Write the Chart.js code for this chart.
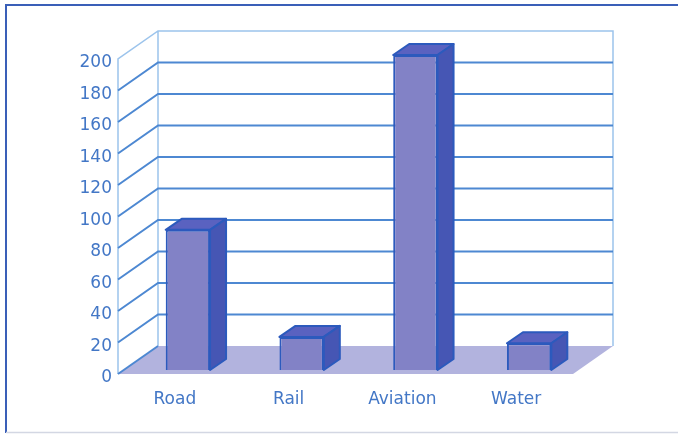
<!DOCTYPE html>
<html>
<head>
<meta charset="utf-8">
<style>
  html, body { margin: 0; padding: 0; background: #ffffff; }
  #wrap { position: relative; width: 678px; height: 434px; }
  canvas { display: block; }
</style>
<script src="https://cdn.jsdelivr.net/npm/chart.js@4/dist/chart.umd.min.js"></script>
</head>
<body>
<div id="wrap"><canvas id="c" width="678" height="434"></canvas></div>
<script>
// Transport modes and their values
const categories = ['Road', 'Rail', 'Aviation', 'Water'];
const values = [89, 21, 200, 17];
// Value axis ticks
const yMin = 0;
const yMax = 200;
const yStep = 20;

// Pseudo-3D geometry (pixel offsets)
const WALL = { dx: 40, dy: -28 };      // depth of the back wall
const BAR_SHIFT = { dx: 13, dy: -4 };  // bars sit slightly into the floor
const BAR_DEPTH = { dx: 16, dy: -11 }; // thickness of each bar

const COLORS = {
  text: '#4377c6',
  grid: '#4d88d2',
  wallEdge: '#9cc4ec',
  floor: '#b2b3de',
  front: '#8282c6',
  top: '#5a62c0',
  side: '#4656b4',
  edge: '#2c5abd',
  frame: '#3a5fb8',
  frameBottom: '#d3d7e3'
};

const scene3d = {
  id: 'scene3d',
  beforeDraw(chart) {
    const ctx = chart.ctx;
    const y = chart.scales.y;
    const a = chart.chartArea;
    ctx.save();
    ctx.fillStyle = '#ffffff';
    ctx.fillRect(0, 0, chart.width, chart.height);

    // outer frame
    ctx.strokeStyle = COLORS.frame;
    ctx.lineWidth = 2;
    ctx.beginPath();
    ctx.moveTo(6, 433);
    ctx.lineTo(6, 5);
    ctx.lineTo(chart.width, 5);
    ctx.stroke();
    ctx.strokeStyle = COLORS.frameBottom;
    ctx.lineWidth = 1.5;
    ctx.beginPath();
    ctx.moveTo(6, 432.5);
    ctx.lineTo(chart.width, 432.5);
    ctx.stroke();

    const yTop = y.getPixelForValue(yMax);
    const yBot = y.getPixelForValue(yMin);
    const L = a.left, R = a.right;

    // floor
    ctx.fillStyle = COLORS.floor;
    ctx.beginPath();
    ctx.moveTo(L, yBot);
    ctx.lineTo(R, yBot);
    ctx.lineTo(R + WALL.dx, yBot + WALL.dy);
    ctx.lineTo(L + WALL.dx, yBot + WALL.dy);
    ctx.closePath();
    ctx.fill();

    // wall outlines
    ctx.strokeStyle = COLORS.wallEdge;
    ctx.lineWidth = 1.5;
    ctx.beginPath();
    ctx.moveTo(L, yBot);
    ctx.lineTo(L, yTop);
    ctx.lineTo(L + WALL.dx, yTop + WALL.dy);
    ctx.lineTo(R + WALL.dx, yTop + WALL.dy);
    ctx.lineTo(R + WALL.dx, yBot + WALL.dy);
    ctx.moveTo(L + WALL.dx, yTop + WALL.dy);
    ctx.lineTo(L + WALL.dx, yBot + WALL.dy);
    ctx.stroke();

    // grid lines on the side and back walls
    ctx.strokeStyle = COLORS.grid;
    ctx.lineWidth = 2;
    for (let v = yMin + yStep; v < yMax; v += yStep) {
      const py = y.getPixelForValue(v);
      ctx.beginPath();
      ctx.moveTo(L, py);
      ctx.lineTo(L + WALL.dx, py + WALL.dy);
      ctx.lineTo(R + WALL.dx, py + WALL.dy);
      ctx.stroke();
    }
    ctx.beginPath();
    ctx.moveTo(L, yBot);
    ctx.lineTo(L + WALL.dx, yBot + WALL.dy);
    ctx.stroke();
    ctx.restore();
  },
  beforeDatasetsDraw(chart) {
    chart.ctx.save();
    chart.ctx.translate(BAR_SHIFT.dx, BAR_SHIFT.dy);
  },
  afterDatasetsDraw(chart) {
    const ctx = chart.ctx;
    const meta = chart.getDatasetMeta(0);
    ctx.lineWidth = 2;
    ctx.lineJoin = 'round';
    ctx.strokeStyle = COLORS.edge;
    meta.data.forEach(bar => {
      const p = bar.getProps(['x', 'y', 'base', 'width'], true);
      const l = p.x - p.width / 2, r = p.x + p.width / 2;
      const t = p.y, b = p.base;
      // top face
      ctx.fillStyle = COLORS.top;
      ctx.beginPath();
      ctx.moveTo(l, t);
      ctx.lineTo(l + BAR_DEPTH.dx, t + BAR_DEPTH.dy);
      ctx.lineTo(r + BAR_DEPTH.dx, t + BAR_DEPTH.dy);
      ctx.lineTo(r, t);
      ctx.closePath();
      ctx.fill();
      ctx.stroke();
      // side face
      ctx.fillStyle = COLORS.side;
      ctx.beginPath();
      ctx.moveTo(r, t);
      ctx.lineTo(r + BAR_DEPTH.dx, t + BAR_DEPTH.dy);
      ctx.lineTo(r + BAR_DEPTH.dx, b + BAR_DEPTH.dy);
      ctx.lineTo(r, b);
      ctx.closePath();
      ctx.fill();
      ctx.stroke();
    });
    ctx.restore();
  }
};

new Chart(document.getElementById('c'), {
  type: 'bar',
  data: {
    labels: categories,
    datasets: [{
      data: values,
      backgroundColor: COLORS.front,
      borderColor: COLORS.edge,
      borderWidth: 2,
      barPercentage: 0.39,
      categoryPercentage: 1,
      clip: false
    }]
  },
  options: {
    responsive: false,
    animation: false,
    events: [],
    layout: { padding: { top: 59, right: 105, left: 0, bottom: 0 } },
    plugins: { legend: { display: false }, tooltip: { enabled: false } },
    scales: {
      x: {
        afterFit(s) { s.height = 60; },
        grid: { display: false, drawTicks: false },
        border: { display: false },
        ticks: {
          color: COLORS.text,
          padding: 15,
          font: { family: 'DejaVu Sans', size: 17 }
        }
      },
      y: {
        min: yMin,
        max: yMax,
        afterFit(s) { s.width = 118; },
        grid: { display: false, drawTicks: false },
        border: { display: false },
        ticks: {
          stepSize: yStep,
          color: COLORS.text,
          padding: 6,
          labelOffset: 4,
          font: { family: 'DejaVu Sans', size: 17 }
        }
      }
    }
  },
  plugins: [scene3d]
});
</script>
</body>
</html>
